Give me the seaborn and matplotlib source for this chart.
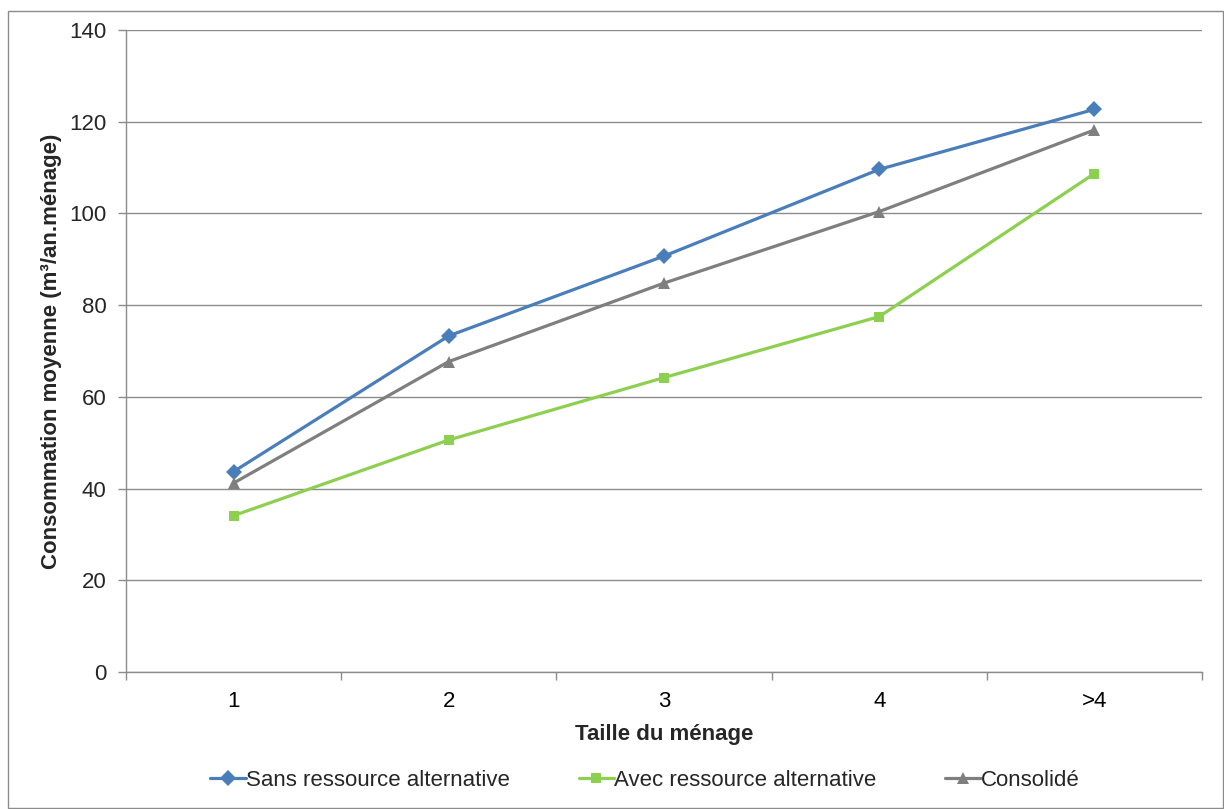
import matplotlib
matplotlib.use("Agg")
import matplotlib.pyplot as plt
from matplotlib.patches import Rectangle
import numpy as np
import pandas as pd
import seaborn as sns

# data
categories = ["1", "2", "3", "4", ">4"]
sans_ressource = [43.7, 73.3, 90.7, 109.6, 122.7]
avec_ressource = [34.1, 50.6, 64.2, 77.5, 108.7]
consolide = [41.2, 67.7, 84.8, 100.4, 118.2]

series_names = ["Sans ressource alternative", "Avec ressource alternative", "Consolidé"]
series_values = [sans_ressource, avec_ressource, consolide]
colors = ["#4A7EBB", "#8DCF4F", "#7F7F7F"]
markers = ["D", "s", "^"]
marker_sizes = [8, 7.5, 9]

sns.set_theme(style="white")
plt.rcParams["font.family"] = ["Liberation Sans", "DejaVu Sans"]

fig = plt.figure(figsize=(12.24, 8.09), dpi=100)
ax = fig.add_axes([126 / 1224, 1 - 672 / 809, (1202 - 126) / 1224, (672 - 30) / 809])

for name, vals, col, mk, ms in zip(series_names, series_values, colors, markers, marker_sizes):
    df = pd.DataFrame({"taille": categories, "conso": vals})
    sns.lineplot(
        ax=ax,
        data=df,
        x="taille",
        y="conso",
        color=col,
        linewidth=2.3,
        marker=mk,
        markersize=ms,
        markeredgewidth=0,
        label=name,
        sort=False,
    )

ax.set_xlim(-0.5, len(categories) - 0.5)
ax.set_ylim(0, 140)
ax.set_yticks(np.arange(0, 141, 20))
ax.yaxis.grid(True, color="#8C8C8C", linewidth=1)
ax.xaxis.grid(False)
ax.set_axisbelow(True)

for side in ["top", "right"]:
    ax.spines[side].set_visible(False)
for side in ["left", "bottom"]:
    ax.spines[side].set_color("#8C8C8C")
    ax.spines[side].set_linewidth(1)

# Excel style: tick marks between categories, labels centred
ax.set_xticks(np.arange(-0.5, len(categories), 1.0), minor=True)
ax.tick_params(axis="x", which="major", length=0, pad=14, labelsize=16, colors="black")
ax.tick_params(axis="x", which="minor", length=6, width=1, color="#8C8C8C", direction="out", bottom=True)
ax.tick_params(axis="y", length=6, width=1, color="#8C8C8C", direction="out", left=True, labelsize=16, pad=8)

ax.set_xlabel("Taille du ménage", fontsize=16, fontweight="bold", labelpad=8)
ax.set_ylabel("Consommation moyenne (m³/an.ménage)", fontsize=16, fontweight="bold", labelpad=5)

ax.legend(
    loc="center",
    bbox_to_anchor=(0.5, 0.0),
    bbox_transform=fig.transFigure,
    ncol=3,
    frameon=False,
    fontsize=16,
    handlelength=1.6,
    handletextpad=0.0,
    columnspacing=3.1,
)
leg = ax.get_legend()
leg.set_bbox_to_anchor((645 / 1224, 1 - 780 / 809), transform=fig.transFigure)

fig.patches.append(
    Rectangle((8 / 1224, 1 / 809), 1 - 9 / 1224, 1 - 12 / 809, transform=fig.transFigure,
              fill=False, edgecolor="#8C8C8C", linewidth=1)
)

fig.savefig("out.png", dpi=100)
